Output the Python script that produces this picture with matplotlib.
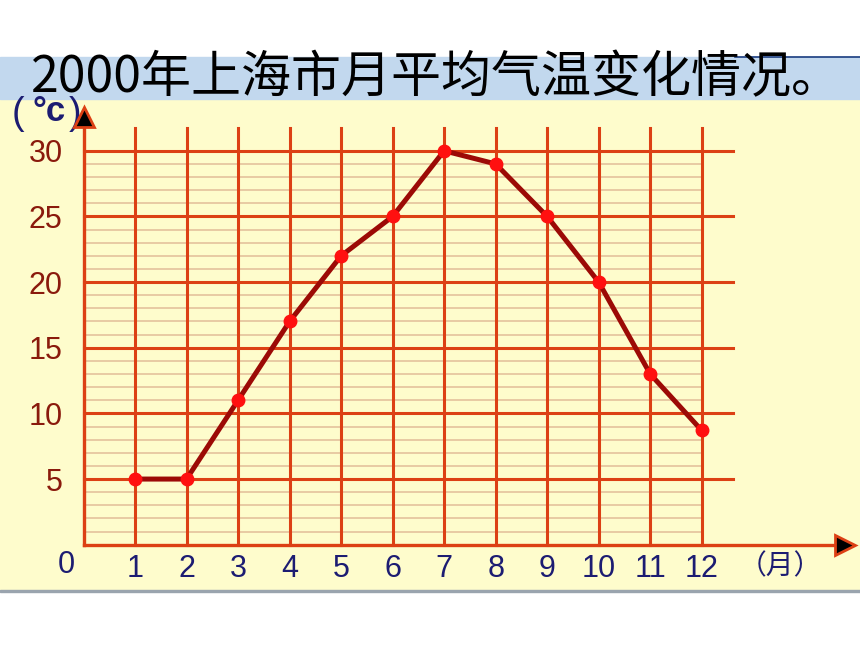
import numpy as np
import matplotlib.pyplot as plt

# 2000年上海市月平均气温
months = [1, 2, 3, 4, 5, 6, 7, 8, 9, 10, 11, 12]
temps = [5, 5, 11, 17, 22, 25, 30, 29, 25, 20, 13, 8.7]
yticks = [5, 10, 15, 20, 25, 30]
title = '2000年上海市月平均气温变化情况。'

grid_red = '#dc4014'
minor_tan = '#e6c6a0'
navy = '#1c1c72'
darkred = '#8a1a0c'

fig = plt.figure(figsize=(8.6, 6.45), dpi=100)
ax = fig.add_axes([0, 0, 1, 1])
ax.set_xlim(-1.621, 15.072)
ax.set_ylim(-7.639, 41.485)
ax.set_facecolor('white')

# background bands (axes fraction)
ax.add_patch(plt.Rectangle((0, 0.0853), 1, 0.7612, transform=ax.transAxes,
                           color='#fefccc', zorder=0))
ax.add_patch(plt.Rectangle((0, 0.0822), 1, 0.0031, transform=ax.transAxes,
                           color='#9aa4ae', zorder=0))
ax.add_patch(plt.Rectangle((0, 0.8465), 1, 0.0651, transform=ax.transAxes,
                           color='#c2d8ee', zorder=0))
ax.plot([0.855, 1], [0.9116, 0.9116], transform=ax.transAxes,
        color='#1a3c80', lw=1.2, zorder=1)

# grid
for v in range(1, 30):
    if v % 5:
        ax.plot([0, 12], [v, v], color=minor_tan, lw=1.3, zorder=1)
for v in yticks:
    ax.plot([0, 12.6], [v, v], color=grid_red, lw=2.2, zorder=2)
for m in months:
    ax.plot([m, m], [0, 31.7], color=grid_red, lw=2.2, zorder=2)

# axes
for side in ['top', 'right']:
    ax.spines[side].set_visible(False)
ax.spines['left'].set_position(('data', 0))
ax.spines['bottom'].set_position(('data', 0))
ax.spines['left'].set_bounds(0, 31.8)
ax.spines['bottom'].set_bounds(0, 14.6)
for side in ['left', 'bottom']:
    ax.spines[side].set_color(grid_red)
    ax.spines[side].set_linewidth(2.4)
    ax.spines[side].set_zorder(3)
ax.plot([0], [32.6], marker='^', markersize=14, markerfacecolor='black',
        markeredgecolor=grid_red, markeredgewidth=2, zorder=4, clip_on=False)
ax.plot([14.79], [0], marker='>', markersize=14, markerfacecolor='black',
        markeredgecolor=grid_red, markeredgewidth=2, zorder=4, clip_on=False)

ax.set_xticks(months)
ax.set_xticklabels([str(m) for m in months])
ax.set_yticks(yticks)
ax.set_yticklabels([str(v) for v in yticks])
ax.tick_params(axis='x', length=0, pad=7, labelsize=22, labelcolor=navy)
ax.tick_params(axis='y', length=0, pad=15, labelsize=22, labelcolor=darkred)
for lab in ax.get_xticklabels() + ax.get_yticklabels():
    lab.set_family('Liberation Sans')

ax.text(-0.33, -1.58, '0', ha='center', va='center', fontsize=22,
        color=navy, family='Liberation Sans')

# data
ax.plot(months, temps, color='#9c0a06', lw=3.6, zorder=5,
        solid_joinstyle='round')
ax.plot(months, temps, 'o', color='#ff1010', markersize=9, zorder=6)

# labels
ax.text(0.5076, 0.879, title, transform=ax.transAxes, ha='center', va='center',
        fontsize=36, color='black', fontweight='light',
        family=['Noto Sans CJK SC', 'DejaVu Sans'])
ax.text(-1.27, 32.8, '(', ha='center', va='center', fontsize=27, color=navy,
        family='Liberation Sans')
ax.text(-0.66, 33.0, '°c', ha='center', va='center', fontsize=25, color=navy,
        family='Liberation Sans', fontweight='bold')
ax.text(-0.17, 32.8, ')', ha='center', va='center', fontsize=27, color=navy,
        family='Liberation Sans')
ax.text(13.52, -1.62, '（月）', ha='center', va='center', fontsize=20,
        color=navy, family=['Noto Sans CJK SC', 'DejaVu Sans'])

fig.savefig('out.png', dpi=100)
